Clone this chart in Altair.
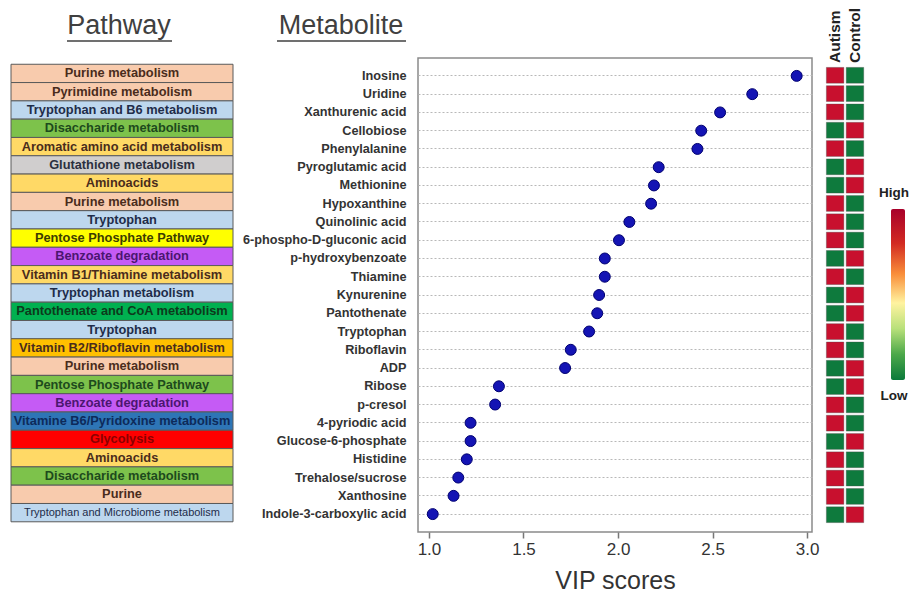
import altair as alt
import pandas as pd

metabolites = ["Inosine", "Uridine", "Xanthurenic acid", "Cellobiose", "Phenylalanine",
               "Pyroglutamic acid", "Methionine", "Hypoxanthine", "Quinolinic acid",
               "6-phospho-D-gluconic  acid", "p-hydroxybenzoate", "Thiamine", "Kynurenine",
               "Pantothenate", "Tryptophan", "Riboflavin", "ADP", "Ribose", "p-cresol",
               "4-pyriodic acid", "Glucose-6-phosphate", "Histidine", "Trehalose/sucrose",
               "Xanthosine", "Indole-3-carboxylic acid"]

vip = [2.945, 2.71, 2.54, 2.44, 2.42, 2.215, 2.19, 2.175, 2.06, 2.005, 1.93, 1.93, 1.90,
       1.89, 1.847, 1.75, 1.72, 1.37, 1.35, 1.22, 1.22, 1.20, 1.155, 1.13, 1.02]

pathways = ["Purine metabolism", "Pyrimidine metabolism", "Tryptophan and B6 metabolism",
            "Disaccharide metabolism", "Aromatic amino acid metabolism", "Glutathione metabolism",
            "Aminoacids", "Purine metabolism", "Tryptophan", "Pentose  Phosphate  Pathway",
            "Benzoate degradation", "Vitamin B1/Thiamine metabolism", "Tryptophan metabolism",
            "Pantothenate and CoA metabolism", "Tryptophan", "Vitamin B2/Riboflavin metabolism",
            "Purine metabolism", "Pentose Phosphate Pathway", "Benzoate degradation",
            "Vitamine B6/Pyridoxine metabolism", "Glycolysis", "Aminoacids",
            "Disaccharide metabolism", "Purine", "Tryptophan and Microbiome metabolism"]

pathway_fill = ["#F8CBAD", "#F8CBAD", "#BDD7EE", "#7DC24B", "#FFD966", "#D0CECE",
                "#FFD966", "#F8CBAD", "#BDD7EE", "#FFFF00", "#C55BF5", "#FFD966",
                "#BDD7EE", "#00B050", "#BDD7EE", "#FFC000", "#F8CBAD", "#7DC24B",
                "#C55BF5", "#2E75B6", "#FF0000", "#FFD966", "#7DC24B", "#F8CBAD", "#BDD7EE"]

pathway_text = ["#4a2c1c", "#4a2c1c", "#1f2d4a", "#1d4a1d", "#4a2c1c", "#2b3040",
                "#4a2c1c", "#4a2c1c", "#1f2d4a", "#3d3d00", "#4b1670", "#4a2c1c",
                "#1f2d4a", "#0d3a1c", "#1f2d4a", "#4a2c1c", "#4a2c1c", "#1d4a1d",
                "#4b1670", "#0d2a5a", "#8b0000", "#4a2c1c", "#1d4a1d", "#4a2c1c", "#1f2d4a"]

small_label = [False] * 24 + [True]

groups = ["Autism", "Control"]
autism_level = ["High", "High", "High", "Low", "High", "Low", "Low", "High", "High", "High",
                "Low", "High", "Low", "Low", "High", "High", "Low", "Low", "High", "High",
                "Low", "High", "High", "High", "Low"]
control_level = ["Low", "Low", "Low", "High", "Low", "High", "High", "Low", "Low", "Low",
                 "High", "Low", "High", "High", "Low", "Low", "High", "High", "Low", "Low",
                 "High", "Low", "Low", "Low", "High"]

FONT = "Liberation Sans"
H = 474

df = pd.DataFrame({"Metabolite": metabolites, "VIP": vip, "Pathway": pathways,
                   "fill": pathway_fill, "tcolor": pathway_text, "small": small_label})

heat = pd.DataFrame({
    "Metabolite": metabolites * 2,
    "Group": [groups[0]] * len(metabolites) + [groups[1]] * len(metabolites),
    "Level": autism_level + control_level,
})

one = pd.DataFrame({"k": [0]})

# ---------- Pathway panel ----------
y_path = alt.Y("Metabolite:N", sort=metabolites,
               scale=alt.Scale(type="band", paddingInner=0, paddingOuter=0.45, align=0.38),
               axis=None)

base_p = alt.Chart(df).encode(y=y_path)
boxes = base_p.mark_rect(stroke="#5a5a5a", strokeWidth=1).encode(
    x=alt.value(3), x2=alt.value(225), fill=alt.Fill("fill:N", scale=None))
ptext = base_p.transform_filter("!datum.small").mark_text(
    font=FONT, fontWeight="bold", fontSize=12.8).encode(
    x=alt.value(114), text="Pathway:N", color=alt.Color("tcolor:N", scale=None))
ptext_small = base_p.transform_filter("datum.small").mark_text(
    font=FONT, fontSize=11).encode(
    x=alt.value(114), text="Pathway:N", color=alt.Color("tcolor:N", scale=None))

t1 = alt.Chart(pd.DataFrame({"t": ["Pathway"]})).mark_text(
    font=FONT, fontSize=27, color="#404040", baseline="alphabetic").encode(
    x=alt.value(111), y=alt.value(-24), text="t:N")
u1 = alt.Chart(one).mark_rule(color="#404040", strokeWidth=1.5).encode(
    x=alt.value(59), x2=alt.value(164), y=alt.value(-17))
t2 = alt.Chart(pd.DataFrame({"t": ["Metabolite"]})).mark_text(
    font=FONT, fontSize=27, color="#404040", baseline="alphabetic").encode(
    x=alt.value(333), y=alt.value(-24), text="t:N")
u2 = alt.Chart(one).mark_rule(color="#404040", strokeWidth=1.5).encode(
    x=alt.value(269), x2=alt.value(398), y=alt.value(-17))

panel1 = alt.layer(boxes, ptext, ptext_small, t1, u1, t2, u2).properties(width=410, height=H)

# ---------- Dot plot ----------
dots = alt.Chart(df).mark_circle(size=120, color="#1414B4", stroke="#000070",
                                 strokeWidth=1, opacity=1).encode(
    x=alt.X("VIP:Q",
            scale=alt.Scale(domain=[0.942, 3.026], nice=False, zero=False),
            axis=alt.Axis(values=[1, 1.5, 2, 2.5, 3], format=".1f", grid=False,
                          tickSize=6, tickColor="#777", tickWidth=1.5, domain=False,
                          labelFontSize=17, labelColor="#333", labelFont=FONT,
                          labelPadding=3,
                          title="VIP scores", titleFontSize=25, titleFontWeight="normal",
                          titleColor="#333", titleFont=FONT, titlePadding=11)),
    y=alt.Y("Metabolite:N", sort=metabolites,
            scale=alt.Scale(type="band", paddingInner=0, paddingOuter=0.48),
            axis=alt.Axis(title=None, ticks=False, domain=False, grid=True,
                          gridDash=[2, 2], gridColor="#b8b8b8", gridWidth=1,
                          bandPosition=0.5,
                          labelFont=FONT, labelFontWeight="bold", labelFontSize=12.7,
                          labelColor="#333", labelPadding=12, labelLimit=300)),
).properties(width=394, height=H,
             view=alt.ViewBackground(stroke="#8a8a8a", strokeWidth=1.5))

# ---------- Heatmap ----------
hx = alt.X("Group:N", sort=groups,
           scale=alt.Scale(paddingInner=0.12, paddingOuter=0.47, align=0.77), axis=None)
cells = alt.Chart(heat).mark_rect(stroke="#4a4a4a", strokeWidth=0.6, strokeOpacity=0.6).encode(
    x=hx,
    y=alt.Y("Metabolite:N", sort=metabolites,
            scale=alt.Scale(type="band", paddingInner=0.137, paddingOuter=0.513), axis=None),
    color=alt.Color("Level:N", scale=alt.Scale(domain=["High", "Low"],
                                               range=["#C8102E", "#0E7A3D"]), legend=None),
)
collab = alt.Chart(pd.DataFrame({"Group": groups})).mark_text(
    font=FONT, fontWeight="bold", fontSize=15.5, angle=270, align="left",
    baseline="middle", color="#222").encode(
    x=hx, y=alt.value(5), text="Group:N")
panel3 = alt.layer(cells, collab).properties(width=56, height=H)

# ---------- Colour key ----------
grad = alt.LinearGradient(
    gradient="linear", x1=0, x2=0, y1=0, y2=1,
    stops=[alt.GradientStop(color="#a8002a", offset=0),
           alt.GradientStop(color="#d22a22", offset=0.2),
           alt.GradientStop(color="#f98e3a", offset=0.38),
           alt.GradientStop(color="#fff3a0", offset=0.55),
           alt.GradientStop(color="#b8e07a", offset=0.7),
           alt.GradientStop(color="#4ca84a", offset=0.85),
           alt.GradientStop(color="#0b7a3b", offset=1)])
bar = alt.Chart(one).mark_rect(color=grad, cornerRadius=2).encode(
    x=alt.value(23), x2=alt.value(37), y=alt.value(151), y2=alt.value(322))
hi = alt.Chart(pd.DataFrame({"t": ["High"]})).mark_text(
    font=FONT, fontWeight="bold", fontSize=13.5, color="#222").encode(
    x=alt.value(26), y=alt.value(135), text="t:N")
lo = alt.Chart(pd.DataFrame({"t": ["Low"]})).mark_text(
    font=FONT, fontWeight="bold", fontSize=13.5, color="#222").encode(
    x=alt.value(26), y=alt.value(338), text="t:N")
panel4 = alt.layer(bar, hi, lo).properties(width=35, height=H)

chart = alt.hconcat(panel1, dots, panel3, panel4, spacing=0, bounds="flush").resolve_scale(
    x="independent", y="independent"
).properties(
    autosize=alt.AutoSizeParams(type="none"),
    padding={"left": 0, "top": 50, "right": 903, "bottom": 537}
).configure(font=FONT).configure_view(stroke=None)

chart.save("out.html", embed_options={"renderer": "svg", "actions": False})
